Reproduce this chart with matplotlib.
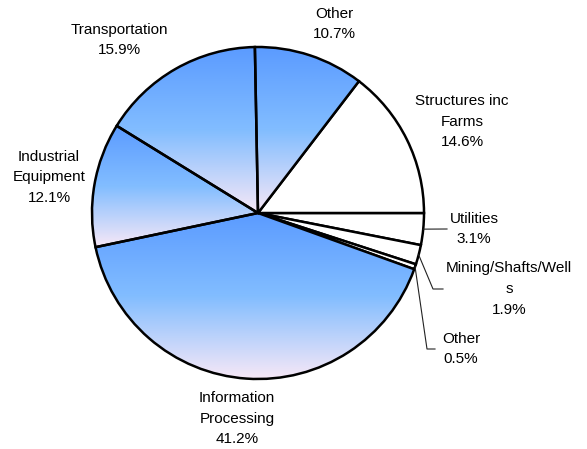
import numpy as np
import matplotlib.pyplot as plt
from matplotlib.colors import LinearSegmentedColormap

plt.rcParams['font.family'] = ['Liberation Sans', 'DejaVu Sans']

# data, clockwise from 3 o'clock
labels = ["Utilities", "Mining/Shafts/Well\ns", "Other", "Information\nProcessing",
          "Industrial\nEquipment", "Transportation", "Other", "Structures inc\nFarms"]
shares = [3.1, 1.9, 0.5, 41.2, 12.1, 15.9, 10.7, 14.6]
shaded = [False, False, False, True, True, True, True, False]

# layout (pixel space, y downward)
W, H = 587, 449
cx, cy, R = 258, 213, 166
label_xy = [(474, 229), (509, 289), (461, 349), (237, 418.5),
            (49, 177.5), (119, 40), (334, 24), (462, 121.5)]
# elbow / end points for leader lines of the small slices
leaders = {0: [(447, 229)], 1: [(433, 289), (443, 289)], 2: [(427, 349), (435, 349)]}

grad = LinearSegmentedColormap.from_list(
    "g", [(0.0, "#5b9bff"), (0.5, "#82bdff"), (1.0, "#f7e8f7")])

fig = plt.figure(figsize=(W / 100, H / 100), dpi=100)
ax = fig.add_axes([0, 0, 1, 1])

wedges, _ = ax.pie(shares, startangle=0, counterclock=False, center=(cx, H - cy), radius=R,
                   colors=["white"] * len(shares),
                   wedgeprops=dict(edgecolor="black", linewidth=1.8))

col = np.linspace(0, 1, 256).reshape(-1, 1)
for w, s in zip(wedges, shaded):
    if not s:
        continue
    w.set_facecolor("none")
    w.set_zorder(2)
    ext = w.get_path().get_extents()
    im = ax.imshow(col, cmap=grad, aspect="auto", origin="upper",
                   extent=(ext.x0, ext.x1, ext.y0, ext.y1), zorder=1)
    im.set_clip_path(w)

for i, (lab, v) in enumerate(zip(labels, shares)):
    x, y = label_xy[i]
    ax.text(x, H - y, f"{lab}\n{v}%", ha="center", va="center", fontsize=11,
            linespacing=1.62, color="black")

# leader lines from the middle of the small wedges
cum = np.cumsum([0] + shares)
for i, pts in leaders.items():
    mid = np.deg2rad(-(cum[i] + shares[i] / 2) / 100 * 360)
    xs = [cx + R * np.cos(mid)] + [p[0] for p in pts]
    ys = [H - cy + R * np.sin(mid)] + [H - p[1] for p in pts]
    ax.plot(xs, ys, color="#222222", lw=0.8, zorder=3)

ax.set_xlim(0, W)
ax.set_ylim(0, H)
ax.set_aspect("equal")
ax.axis("off")
fig.savefig("out.png", dpi=100)
